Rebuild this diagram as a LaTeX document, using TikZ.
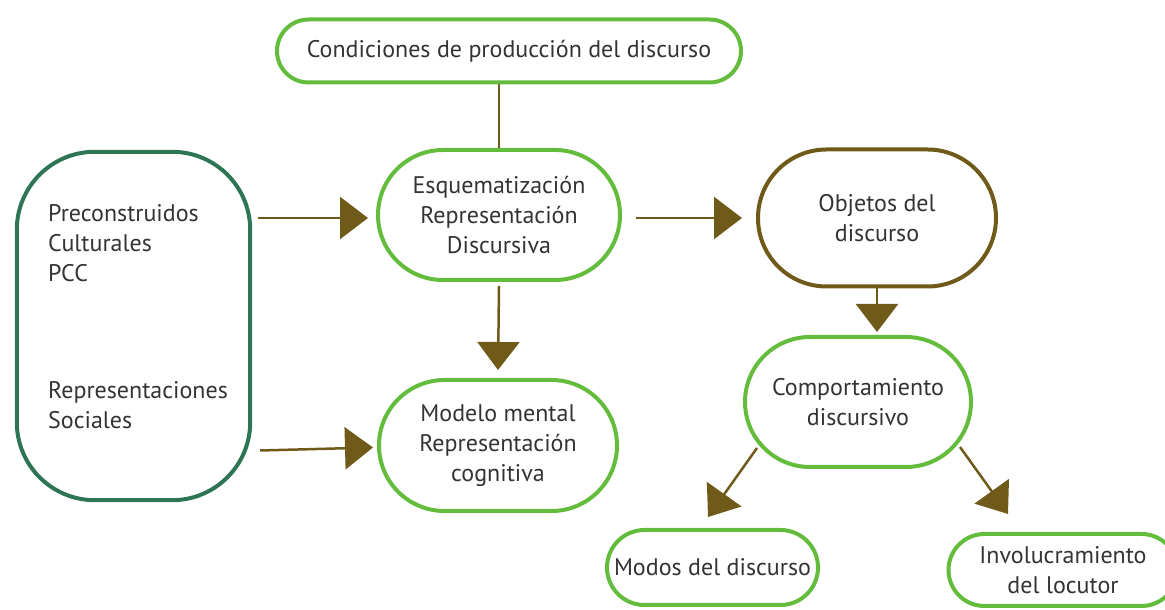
\documentclass[tikz,border=0pt]{standalone}
\usepackage{fontspec}
\setmainfont{PT Sans}
\usetikzlibrary{arrows.meta,shapes.misc}
\definecolor{lgreen}{RGB}{100,188,60}
\definecolor{dgreen}{RGB}{46,117,86}
\definecolor{brownc}{RGB}{112,90,26}
\definecolor{txt}{RGB}{51,51,51}
\begin{document}
\begin{tikzpicture}[x=1pt,y=1pt,
  box/.style={rounded rectangle, draw=lgreen, line width=4pt, align=center, text=txt, font=\fontsize{24}{30}\selectfont, inner sep=0pt},
  arr/.style={draw=brownc, line width=2.5pt, -{Triangle[length=28pt,width=42pt]}},
  lbl/.style={anchor=west, align=left, text=txt, font=\fontsize{24}{30}\selectfont, inner sep=0pt}]
\useasboundingbox (0,0) rectangle (1165,610);
\clip (0,0) rectangle (1165,610);
\node[box, minimum width=464pt, minimum height=63pt] (cond) at (509,559) {Condiciones de producción del discurso};
\node[box, minimum width=242pt, minimum height=130pt] (esq) at (499,395) {Esquematización\\Representación\\Discursiva};
\node[box, minimum width=238pt, minimum height=131pt] (modelo) at (498,164.5) {Modelo mental\\Representación\\cognitiva};
\node[minimum width=233pt, minimum height=348pt, inner sep=0pt] (left) at (133.5,284) {};
\draw[dgreen, line width=4pt] ([xshift=78pt]left.north west) -- ([xshift=-78pt]left.north east)
  arc[start angle=90, end angle=0, radius=78pt] -- ([yshift=78pt]left.south east)
  arc[start angle=0, end angle=-90, radius=78pt] -- ([xshift=78pt]left.south west)
  arc[start angle=270, end angle=180, radius=78pt] -- ([yshift=-78pt]left.north west)
  arc[start angle=180, end angle=90, radius=78pt] -- cycle;
\node[lbl] (pcc) at (48,367) {Preconstruidos\\Culturales\\PCC};
\node[lbl] (rs) at (48,205) {Representaciones\\Sociales};
\node[box, draw=brownc, minimum width=238pt, minimum height=137pt] (obj) at (877,392) {Objetos del\\discurso};
\node[box, minimum width=226pt, minimum height=130pt] (comp) at (858,208) {Comportamiento\\discursivo};
\node[box, minimum width=211pt, minimum height=75pt] (modos) at (712.5,42.5) {Modos del discurso};
\node[box, minimum width=229pt, minimum height=72pt] (invol) at (1063,40) {Involucramiento\\del locutor};
\draw[brownc, line width=2.5pt] (cond.south -| esq.north) -- (esq.north);
\draw[arr] ([yshift=-4pt]esq.south) -- ([yshift=8pt]modelo.north);
\draw[arr] ([xshift=8pt]left.east |- obj.west) -- ([xshift=-8pt]esq.west |- obj.west);
\draw[arr] ([xshift=10pt,yshift=-5pt]left.east |- modelo.west) -- ([xshift=-4pt,yshift=-2pt]modelo.west);
\draw[arr] ([xshift=14pt]esq.east |- obj.west) -- ([xshift=-14pt]obj.west);
\draw[arr] (obj.south) -- ([yshift=3pt]obj.south |- comp.north);
\coordinate (c1) at ([xshift=-101pt,yshift=-46pt]comp.center);
\coordinate (m1) at ([xshift=-4.5pt,yshift=11pt]modos.north);
\coordinate (c2) at ([xshift=102pt,yshift=-45pt]comp.center);
\coordinate (i1) at ([xshift=-55pt,yshift=18pt]invol.north);
\draw[arr] (c1) -- (m1);
\draw[arr] (c2) -- (i1);
\end{tikzpicture}
\end{document}
